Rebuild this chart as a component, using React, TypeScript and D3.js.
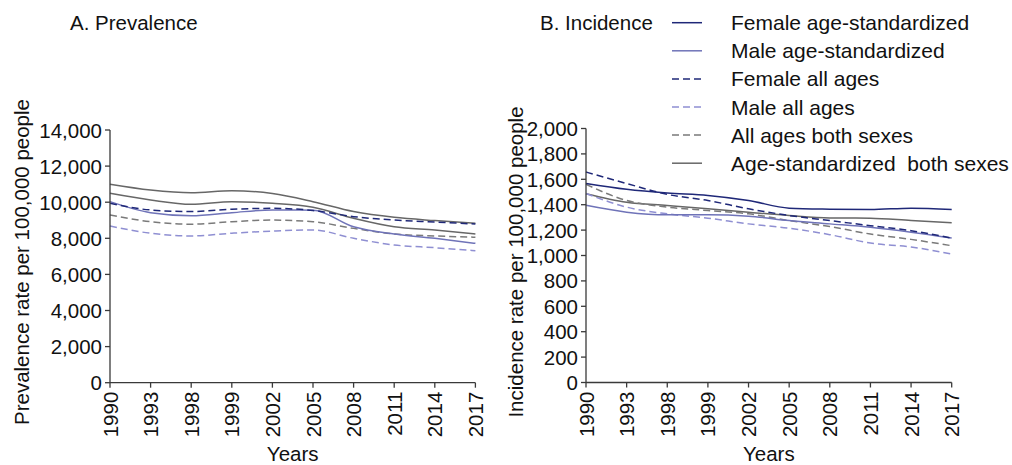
import React from "react";
import * as d3 from "d3";

const yearLabels = ["1990", "1993", "1998", "1999", "2002", "2005", "2008", "2011", "2014", "2017"];

// Prevalence (per 100,000)
const prevTopSolid = [11000, 10680, 10530, 10640, 10480, 10030, 9480, 9160, 8980, 8830];
const prevSecondSolid = [10490, 10120, 9880, 10030, 9940, 9720, 9110, 8640, 8460, 8240];
const prevFemaleAll = [9940, 9570, 9480, 9610, 9660, 9540, 9200, 9010, 8900, 8790];
const prevMaleStd = [10030, 9420, 9250, 9420, 9570, 9560, 8640, 8240, 8000, 7720];
const prevBothAll = [9290, 8920, 8780, 8920, 9010, 8920, 8550, 8240, 8130, 8060];
const prevMaleAll = [8680, 8280, 8130, 8280, 8400, 8460, 8000, 7630, 7480, 7310];

// Incidence (per 100,000)
const incFemaleStd = [1567, 1521, 1492, 1473, 1433, 1373, 1365, 1362, 1373, 1362];
const incMaleStd = [1395, 1341, 1320, 1320, 1310, 1275, 1249, 1222, 1183, 1137];
const incFemaleAll = [1657, 1567, 1481, 1433, 1368, 1315, 1275, 1235, 1195, 1137];
const incMaleAll = [1488, 1381, 1328, 1294, 1249, 1215, 1164, 1098, 1067, 1011];
const incBothAll = [1560, 1433, 1381, 1354, 1328, 1275, 1228, 1169, 1127, 1077];
const incBothStd = [1487, 1420, 1394, 1368, 1341, 1315, 1296, 1294, 1275, 1257];

const legendLabels = [
  "Female age-standardized",
  "Male age-standardized",
  "Female all ages",
  "Male all ages",
  "All ages both sexes",
  "Age-standardized  both sexes",
];

const prevTicks = [0, 2000, 4000, 6000, 8000, 10000, 12000, 14000];
const incTicks = [0, 200, 400, 600, 800, 1000, 1200, 1400, 1600, 1800, 2000];

const NAVY = "#1f2878";
const BLUE = "#6f73b8";
const LIGHT = "#8f8fd2";
const GRAY_D = "#7a7a7a";
const GRAY_S = "#676767";
const DASH = "7,4";

const FONT = "'Liberation Sans', Arial, sans-serif";
const FS = 20.5;
const FS_LEG = 21;

type Series = { values: number[]; color: string; dash?: string };

const prevSeries: Series[] = [
  { values: prevTopSolid, color: GRAY_S },
  { values: prevSecondSolid, color: GRAY_S },
  { values: prevBothAll, color: GRAY_D, dash: DASH },
  { values: prevMaleAll, color: LIGHT, dash: DASH },
  { values: prevMaleStd, color: BLUE },
  { values: prevFemaleAll, color: NAVY, dash: DASH },
];

const incSeries: Series[] = [
  { values: incBothStd, color: GRAY_S },
  { values: incBothAll, color: GRAY_D, dash: DASH },
  { values: incMaleAll, color: LIGHT, dash: DASH },
  { values: incMaleStd, color: BLUE },
  { values: incFemaleAll, color: NAVY, dash: DASH },
  { values: incFemaleStd, color: NAVY },
];

const legendStyles: Series[] = [
  { values: [], color: NAVY },
  { values: [], color: BLUE },
  { values: [], color: NAVY, dash: DASH },
  { values: [], color: LIGHT, dash: DASH },
  { values: [], color: GRAY_D, dash: DASH },
  { values: [], color: GRAY_S },
];

const fmt = d3.format(",");

function Panel(props: {
  x0: number;
  x1: number;
  yTop: number;
  yBottom: number;
  max: number;
  ticks: number[];
  series: Series[];
  yTitle: string;
  yTitleX: number;
  yTitleY: number;
}) {
  const { x0, x1, yTop, yBottom, max, ticks, series, yTitle, yTitleX, yTitleY } = props;
  const x = d3.scalePoint<string>().domain(yearLabels).range([x0, x1]).padding(0);
  const y = d3.scaleLinear().domain([0, max]).range([yBottom, yTop]);
  const line = d3
    .line<number>()
    .x((_, i) => x(yearLabels[i]) as number)
    .y((d) => y(d))
    .curve(d3.curveMonotoneX);
  const axisColor = "#3a3a3a";
  return (
    <g>
      {series.map((s, i) => (
        <path
          key={i}
          d={line(s.values) || ""}
          fill="none"
          stroke={s.color}
          strokeWidth={1.5}
          strokeDasharray={s.dash}
        />
      ))}
      <line x1={x0} x2={x0} y1={yTop} y2={yBottom} stroke={axisColor} strokeWidth={1.3} />
      <line x1={x0} x2={x1} y1={yBottom} y2={yBottom} stroke={axisColor} strokeWidth={1.3} />
      {ticks.map((t) => (
        <g key={t}>
          <line x1={x0 - 5} x2={x0} y1={y(t)} y2={y(t)} stroke={axisColor} strokeWidth={1.3} />
          <text
            x={x0 - 8}
            y={y(t)}
            textAnchor="end"
            dominantBaseline="central"
            fontFamily={FONT}
            fontSize={FS}
            fill="#111"
          >
            {fmt(t)}
          </text>
        </g>
      ))}
      {yearLabels.map((lab) => {
        const xp = x(lab) as number;
        return (
          <g key={lab}>
            <line x1={xp} x2={xp} y1={yBottom} y2={yBottom + 5} stroke={axisColor} strokeWidth={1.3} />
            <text
              transform={`translate(${xp},${yBottom + 9}) rotate(-90)`}
              textAnchor="end"
              dominantBaseline="central"
              fontFamily={FONT}
              fontSize={FS}
              fill="#111"
            >
              {lab}
            </text>
          </g>
        );
      })}
      <text
        x={(x0 + x1) / 2}
        y={461}
        textAnchor="middle"
        fontFamily={FONT}
        fontSize={FS}
        fill="#111"
      >
        Years
      </text>
      <text
        transform={`translate(${yTitleX},${yTitleY}) rotate(-90)`}
        textAnchor="middle"
        fontFamily={FONT}
        fontSize={FS}
        fill="#111"
      >
        {yTitle}
      </text>
    </g>
  );
}

export default function App() {
  return (
    <svg
      width={1012}
      height={465}
      style={{ position: "absolute", left: 0, top: 0, background: "#fff" }}
    >
      <rect width={1012} height={465} fill="#fff" />
      <text x={70} y={30} fontFamily={FONT} fontSize={FS} fill="#111">
        A. Prevalence
      </text>
      <text x={540} y={30} fontFamily={FONT} fontSize={FS} fill="#111">
        B. Incidence
      </text>
      {legendLabels.map((lab, i) => {
        const yy = 22.7 + i * 28.1;
        const st = legendStyles[i];
        return (
          <g key={lab}>
            <line
              x1={672}
              x2={702}
              y1={yy}
              y2={yy}
              stroke={st.color}
              strokeWidth={1.5}
              strokeDasharray={st.dash}
            />
            <text
              x={731}
              y={yy}
              dominantBaseline="central"
              fontFamily={FONT}
              fontSize={FS_LEG}
              fill="#111"
              style={{ whiteSpace: "pre" }}
            >
              {lab}
            </text>
          </g>
        );
      })}
      <Panel
        x0={110}
        x1={475.4}
        yTop={130}
        yBottom={382.7}
        max={14000}
        ticks={prevTicks}
        series={prevSeries}
        yTitle="Prevalence rate per 100,000 people"
        yTitleX={29}
        yTitleY={262}
      />
      <Panel
        x0={586}
        x1={951.7}
        yTop={128.5}
        yBottom={382.5}
        max={2000}
        ticks={incTicks}
        series={incSeries}
        yTitle="Incidence rate per 100,000 people"
        yTitleX={523}
        yTitleY={262}
      />
    </svg>
  );
}
